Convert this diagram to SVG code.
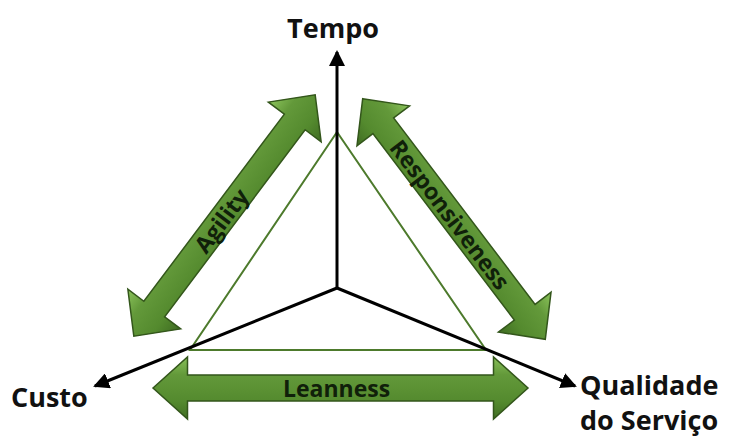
<svg xmlns="http://www.w3.org/2000/svg" width="729" height="437" viewBox="0 0 729 437">
  <style>
    .axis { stroke: #000; stroke-width: 3; fill: none; }
    .tri { stroke: #4d7a2c; stroke-width: 2; fill: none; }
    .blk { fill: url(#greenBevel); stroke: #33561b; stroke-width: 1.5; stroke-linejoin: miter; }
    .lbl { font-family: "Open Sans", "Liberation Sans", sans-serif; font-weight: 700; font-size: 27px; fill: #111; }
    .alb { font-family: "Open Sans", "Liberation Sans", sans-serif; font-weight: 700; font-size: 23px; fill: #10200a; text-anchor: middle; dominant-baseline: central; }
  </style>
  <defs>
    <linearGradient id="greenBevel" gradientUnits="userSpaceOnUse" x1="0" y1="-33" x2="0" y2="33">
      <stop offset="0" stop-color="#8cc45c"/>
      <stop offset="0.3" stop-color="#63993a"/>
      <stop offset="0.7" stop-color="#548a2e"/>
      <stop offset="1" stop-color="#3f6c22"/>
    </linearGradient>
    <marker id="tip" markerUnits="userSpaceOnUse" markerWidth="16" markerHeight="16" viewBox="0 0 16 16" refX="14" refY="8" orient="auto">
      <path d="M0,0 L16,8 L0,16 Z" fill="#000"/>
    </marker>
  </defs>

  <!-- triangle -->
  <g id="triangle">
    <polygon class="tri" points="337,132 190,350 486,350"/>
  </g>

  <!-- axes -->
  <g id="connectors">
    <line class="axis" x1="337" y1="288" x2="337" y2="52" marker-end="url(#tip)"/>
    <line class="axis" x1="337" y1="288" x2="95" y2="386" marker-end="url(#tip)"/>
    <line class="axis" x1="337" y1="288" x2="575" y2="386" marker-end="url(#tip)"/>
  </g>

  <!-- double arrows -->
  <g id="agility" transform="translate(224.5,215.5) rotate(-53.1)">
    <path class="blk" d="M-151,0 L-117,-33 L-117,-13 L117,-13 L117,-33 L151,0 L117,33 L117,13 L-117,13 L-117,33 Z"/>
    <text class="alb" x="-6" y="0">Agility</text>
  </g>
  <g id="responsiveness" transform="translate(454,219) rotate(52.8)">
    <path class="blk" d="M-151,0 L-117,-33 L-117,-13 L117,-13 L117,-33 L151,0 L117,33 L117,13 L-117,13 L-117,33 Z"/>
    <text class="alb" x="-6" y="0">Responsiveness</text>
  </g>
  <g id="leanness" transform="translate(340.5,388)">
    <path class="blk" d="M-187.5,0 L-153,-31 L-153,-13 L153,-13 L153,-31 L187.5,0 L153,31 L153,13 L-153,13 L-153,31 Z"/>
    <text class="alb" x="-4" y="0">Leanness</text>
  </g>

  <!-- labels -->
  <g id="tempo"><text class="lbl" x="333" y="38" text-anchor="middle">Tempo</text></g>
  <g id="custo"><text class="lbl" x="11" y="407">Custo</text></g>
  <g id="qualidade">
    <text class="lbl" x="580" y="395">Qualidade</text>
    <text class="lbl" x="580" y="430">do Serviço</text>
  </g>
</svg>
